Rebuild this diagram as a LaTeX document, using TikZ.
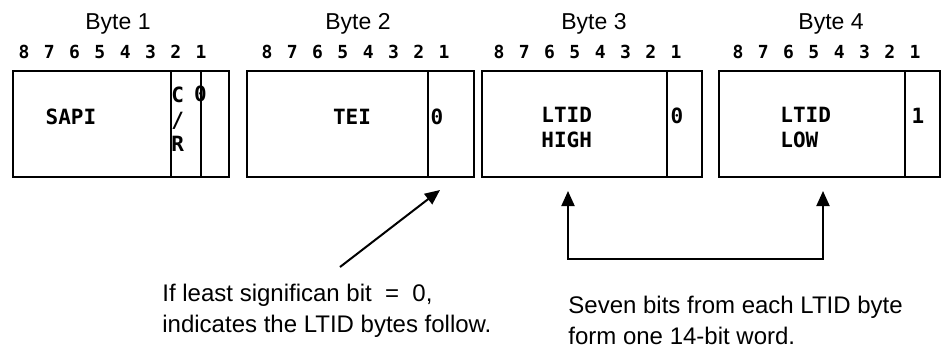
\documentclass[tikz,border=0pt]{standalone}
\usepackage{fontspec}
\setmainfont{Liberation Sans}
\newfontfamily\fieldfont{DejaVu Sans Mono}
\usepackage{tikz}
\usetikzlibrary{arrows.meta, positioning}
\tikzset{
	field/.style   ={rectangle, draw=black, line width=1.2pt, inner sep=0pt, outer sep=0pt, minimum height=53pt, anchor=north west},
	lbl/.style     ={font=\fieldfont\bfseries\fontsize{10.5}{12.25}\selectfont, inner sep=0pt},
	bitnum/.style  ={font=\fieldfont\bfseries\fontsize{9}{10}\selectfont, inner sep=0pt},
	bytehead/.style={font=\fontsize{11.5}{13}\selectfont, inner sep=0pt, anchor=base},
	note/.style    ={font=\fontsize{12}{15.5}\selectfont, align=left, inner sep=0pt, anchor=north west},
	sig/.style     ={-{Triangle[length=7.5pt, width=6.5pt]}, line width=1pt},
	pair/.style    ={{Triangle[length=7.5pt, width=6.5pt]}-{Triangle[length=7.5pt, width=6.5pt]}, line width=1pt},
}

\begin{document}
\begin{tikzpicture}[x=0.5pt, y=-0.5pt]
	\useasboundingbox (0,0) rectangle (942,349);
	% byte headings and bit numbers
	\node[bytehead] (headA) at (118,29) {Byte 1};
	\node[bytehead] (headB) at (358,29) {Byte 2};
	\node[bytehead] (headC) at (594,29) {Byte 3};
	\node[bytehead] (headD) at (831,29) {Byte 4};
	\foreach \x/\byte in {24/A, 267/B, 499/C, 738/D}
		\foreach \i in {8,...,1}
			\node[bitnum] (bit\byte\i) at ({\x+(8-\i)*25.3},52) {\i};
	% field texts
	\node[lbl] (sapiL) at (71,117) {SAPI};
	\node[lbl, align=left, anchor=north west] (crL) at (171,87) {C\\/\\R};
	\node[lbl] (eaA) at (200.5,94) {0};
	\node[lbl] (teiL) at (352,117) {TEI};
	\node[lbl] (eaB) at (437,117) {0};
	\node[lbl, align=left, anchor=north west] (highL) at (541,107) {LTID\\HIGH};
	\node[lbl] (eaC) at (677,116) {0};
	\node[lbl, align=left, anchor=north west] (lowL) at (780,107) {LTID\\LOW};
	\node[lbl] (eaD) at (918,116) {1};
	% byte 1
	\node[field, minimum width=79pt] (sapi) at (13,71) {};
	\node[field, minimum width=15pt, right=0pt of sapi] (cr) {};
	\node[field, minimum width=14pt, right=0pt of cr] (lsbA) {};
	% byte 2
	\node[field, minimum width=90.5pt] (tei) at (247,71) {};
	\node[field, minimum width=23pt, right=0pt of tei] (lsbB) {};
	% byte 3
	\node[field, minimum width=92.5pt] (high) at (482,71) {};
	\node[field, minimum width=17.5pt, right=0pt of high] (lsbC) {};
	% byte 4
	\node[field, minimum width=93pt] (low) at (719,71) {};
	\node[field, minimum width=17.5pt, right=0pt of low] (lsbD) {};
	% notes
	\node[note] (lsbNote) at (162,284) {If least significan bit\ \ =\ \ 0,\\indicates the LTID bytes follow.};
	\node[note] (wordNote) at (568,296) {Seven bits from each LTID byte\\form one 14-bit word.};
	% arrows
	\coordinate (lsbTail) at (340,267);
	\coordinate (lsbTip) at (440,190);
	\draw[sig] (lsbTail) -- (lsbTip);
	\coordinate (hiTip) at (568,191);
	\coordinate (loTip) at (823,191);
	\coordinate (wordJoin) at (700,259);
	\draw[pair] (hiTip) |- (wordJoin) -| (loTip);
\end{tikzpicture}
\end{document}
